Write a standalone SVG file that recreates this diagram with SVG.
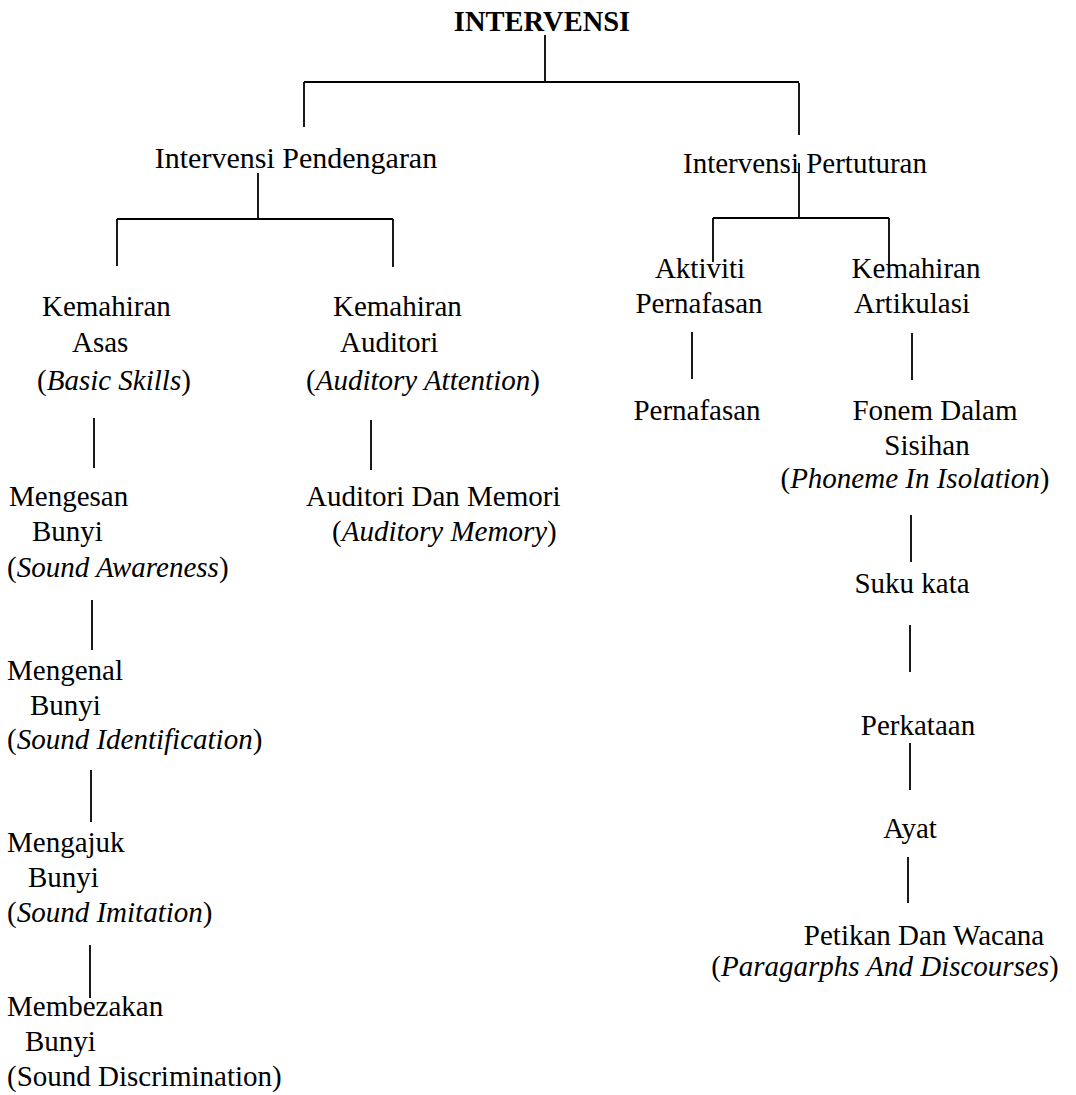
<svg xmlns="http://www.w3.org/2000/svg" width="1076" height="1095" viewBox="0 0 1076 1095">
<style>
text{font-family:"Liberation Serif","Times New Roman",serif;font-size:29px;fill:#000}
.t{font-weight:bold;font-size:28.5px}
.h{font-size:30px}
.i{font-style:italic}
.c{text-anchor:middle}
#connectors path{stroke:#000;stroke-width:1.8;fill:none}
</style>
<rect width="1076" height="1095" fill="#fff"/>
<g id="connectors">
<path d="M545,35 V83"/>
<path d="M304,82 H799"/>
<path d="M304,82 V127"/>
<path d="M799,83 V135"/>
<path d="M258,173 V219"/>
<path d="M117,219 H393"/>
<path d="M117,219 V266"/>
<path d="M393,219 V267"/>
<path d="M799,163 V218"/>
<path d="M713,218 H889"/>
<path d="M713,218 V262"/>
<path d="M889,218 V266"/>
<path d="M94,418 V468"/>
<path d="M92,600 V650"/>
<path d="M91,770 V822"/>
<path d="M90,945 V998"/>
<path d="M371,420 V470"/>
<path d="M692,332 V379"/>
<path d="M912,333 V380"/>
<path d="M911,515 V562"/>
<path d="M910,625 V672"/>
<path d="M910,743 V790"/>
<path d="M908,857 V903"/>
</g>
<g id="n-root"><text class="t c" x="542" y="31">INTERVENSI</text></g>
<g id="n-pendengaran"><text class="h c" x="296" y="168">Intervensi Pendengaran</text></g>
<g id="n-pertuturan"><text class="c" x="805" y="173">Intervensi Pertuturan</text></g>
<g id="n-asas">
<text x="42" y="316">Kemahiran</text>
<text x="72" y="352">Asas</text>
<text x="37" y="390">(<tspan class="i">Basic Skills</tspan>)</text>
</g>
<g id="n-auditori">
<text x="333" y="316">Kemahiran</text>
<text x="340" y="352">Auditori</text>
<text x="306" y="390">(<tspan class="i">Auditory Attention</tspan>)</text>
</g>
<g id="n-mengesan">
<text x="9" y="506">Mengesan</text>
<text x="32" y="541">Bunyi</text>
<text x="7" y="577">(<tspan class="i">Sound Awareness</tspan>)</text>
</g>
<g id="n-mengenal">
<text x="7" y="680">Mengenal</text>
<text x="30" y="715">Bunyi</text>
<text x="7" y="749">(<tspan class="i">Sound Identification</tspan>)</text>
</g>
<g id="n-mengajuk">
<text x="7" y="852">Mengajuk</text>
<text x="28" y="887">Bunyi</text>
<text x="7" y="922">(<tspan class="i">Sound Imitation</tspan>)</text>
</g>
<g id="n-membezakan">
<text x="7" y="1016">Membezakan</text>
<text x="25" y="1051">Bunyi</text>
<text x="7" y="1086">(Sound Discrimination)</text>
</g>
<g id="n-memori">
<text x="306" y="506">Auditori Dan Memori</text>
<text x="332" y="541">(<tspan class="i">Auditory Memory</tspan>)</text>
</g>
<g id="n-aktiviti">
<text class="c" x="700" y="278">Aktiviti</text>
<text class="c" x="699" y="313">Pernafasan</text>
</g>
<g id="n-artikulasi">
<text class="c" x="916" y="278">Kemahiran</text>
<text class="c" x="912" y="313">Artikulasi</text>
</g>
<g id="n-pernafasan"><text class="c" x="697" y="420">Pernafasan</text></g>
<g id="n-fonem">
<text class="c" x="935" y="420">Fonem Dalam</text>
<text class="c" x="927" y="455">Sisihan</text>
<text class="c" x="915" y="488">(<tspan class="i">Phoneme In Isolation</tspan>)</text>
</g>
<g id="n-suku"><text class="c" x="912" y="593">Suku kata</text></g>
<g id="n-perkataan"><text class="c" x="918" y="735">Perkataan</text></g>
<g id="n-ayat"><text class="c" x="910" y="838">Ayat</text></g>
<g id="n-petikan">
<text class="c" x="924" y="945">Petikan Dan Wacana</text>
<text class="c" x="885" y="976">(<tspan class="i">Paragarphs And Discourses</tspan>)</text>
</g>
</svg>
